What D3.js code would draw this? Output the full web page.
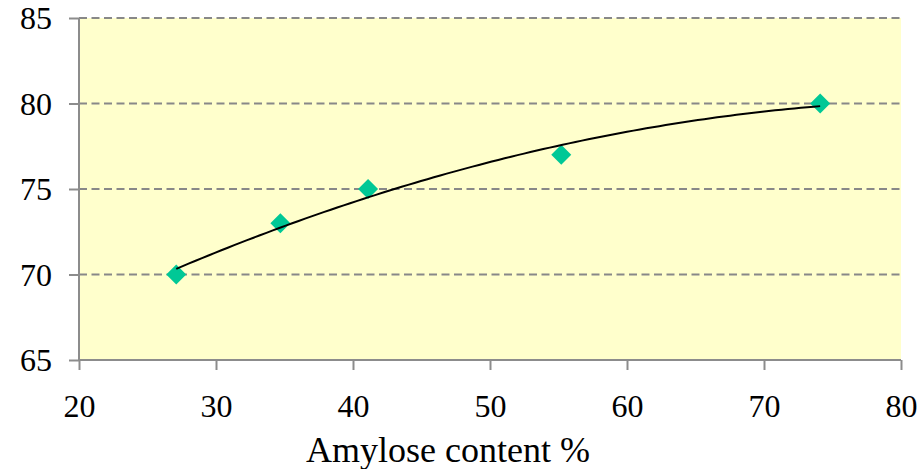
<!DOCTYPE html>
<html>
  <head>
    <meta charset="utf-8" />
    <script src="https://d3js.org/d3.v7.min.js"></script>
    <style>
      body { margin: 0; background: #fff; }
      .grid line { stroke: #888888; stroke-width: 2px; stroke-dasharray: 8 4.5; }
      .axis path, .axis line { stroke: #8c8c8c; stroke-width: 2px; }
    </style>
  </head>
  <body>
    <svg id="chart" width="921" height="469"></svg>
    <script>
      // amylose content (%) vs value
      var amylose = [27.1, 34.7, 41.1, 55.2, 74.1];
      var values = [70, 73, 75, 77, 80];
      var xTicks = [20, 30, 40, 50, 60, 70, 80];
      var yTicks = [65, 70, 75, 80, 85];

      var serif = "'Liberation Serif', 'Times New Roman', serif";
      var svg = d3.select("#chart");
      var plotLeft = 79, plotRight = 901, plotTop = 18, plotBottom = 360;

      var x = d3.scaleLinear().domain([20, 80]).range([plotLeft, plotRight]);
      var y = d3.scaleLinear().domain([65, 85]).range([plotBottom, plotTop]);

      svg.append("rect")
        .attr("x", plotLeft).attr("y", plotTop)
        .attr("width", plotRight - plotLeft).attr("height", plotBottom - plotTop)
        .attr("fill", "#ffffcc");

      // dashed gridlines
      svg.append("g").attr("class", "grid")
        .selectAll("line")
        .data(yTicks.filter(function(d) { return d != 65; }))
        .enter().append("line")
        .attr("x1", plotLeft).attr("x2", plotRight)
        .attr("y1", function(d) { return y(d); })
        .attr("y2", function(d) { return y(d); });

      var yAxis = svg.append("g").attr("class", "axis")
        .attr("transform", "translate(" + plotLeft + ",0)")
        .call(d3.axisLeft(y).tickValues(yTicks).tickSize(10).tickSizeOuter(0).tickPadding(17));
      yAxis.attr("font-family", serif).attr("font-size", 32);
      yAxis.selectAll("text").style("font-family", serif).style("font-size", "32px").attr("fill", "#000").attr("dy", "0.34em");

      var xAxis = svg.append("g").attr("class", "axis")
        .attr("transform", "translate(0," + plotBottom + ")")
        .call(d3.axisBottom(x).tickValues(xTicks).tickSize(10).tickSizeOuter(0).tickPadding(24));
      xAxis.attr("font-family", serif).attr("font-size", 32);
      xAxis.selectAll("text").style("font-family", serif).style("font-size", "32px").attr("fill", "#000").attr("dy", "0.71em");
      xAxis.select(".domain").attr("d", "M" + plotLeft + ",0H" + plotRight);
      yAxis.select(".domain").attr("d", "M0," + plotTop + "V" + plotBottom);

      // quadratic least squares trendline
      function polyFit(xs, ys) {
        var n = xs.length, s = [0, 0, 0, 0, 0], t = [0, 0, 0];
        for (var i = 0; i < n; i++) {
          for (var k = 0; k < 5; k++) s[k] += Math.pow(xs[i], k);
          for (var k = 0; k < 3; k++) t[k] += ys[i] * Math.pow(xs[i], k);
        }
        var m = [[s[0], s[1], s[2], t[0]], [s[1], s[2], s[3], t[1]], [s[2], s[3], s[4], t[2]]];
        for (var c = 0; c < 3; c++) {
          for (var r = c + 1; r < 3; r++) {
            var f = m[r][c] / m[c][c];
            for (var j = c; j < 4; j++) m[r][j] -= f * m[c][j];
          }
        }
        var coef = [0, 0, 0];
        for (var r = 2; r >= 0; r--) {
          var v = m[r][3];
          for (var j = r + 1; j < 3; j++) v -= m[r][j] * coef[j];
          coef[r] = v / m[r][r];
        }
        return coef;
      }
      var coef = polyFit(amylose, values);
      var x0 = d3.min(amylose), x1 = d3.max(amylose);
      var trend = d3.range(0, 101).map(function(i) {
        var xv = x0 + (x1 - x0) * i / 100;
        return [xv, coef[0] + coef[1] * xv + coef[2] * xv * xv];
      });

      svg.selectAll(".pt")
        .data(amylose)
        .enter().append("path")
        .attr("class", "pt")
        .attr("d", "M0,-10L10,0L0,10L-10,0Z")
        .attr("fill", "#00c896")
        .attr("transform", function(d, i) { return "translate(" + x(d) + "," + y(values[i]) + ")"; });

      svg.append("path")
        .datum(trend)
        .attr("fill", "none")
        .attr("stroke", "#000")
        .attr("stroke-width", 2)
        .attr("d", d3.line().x(function(d) { return x(d[0]); }).y(function(d) { return y(d[1]); }));

      svg.append("text")
        .attr("x", 448).attr("y", 462)
        .attr("text-anchor", "middle")
        .style("font-family", serif)
        .style("font-size", "36px")
        .text("Amylose content %");
    </script>
  </body>
</html>
